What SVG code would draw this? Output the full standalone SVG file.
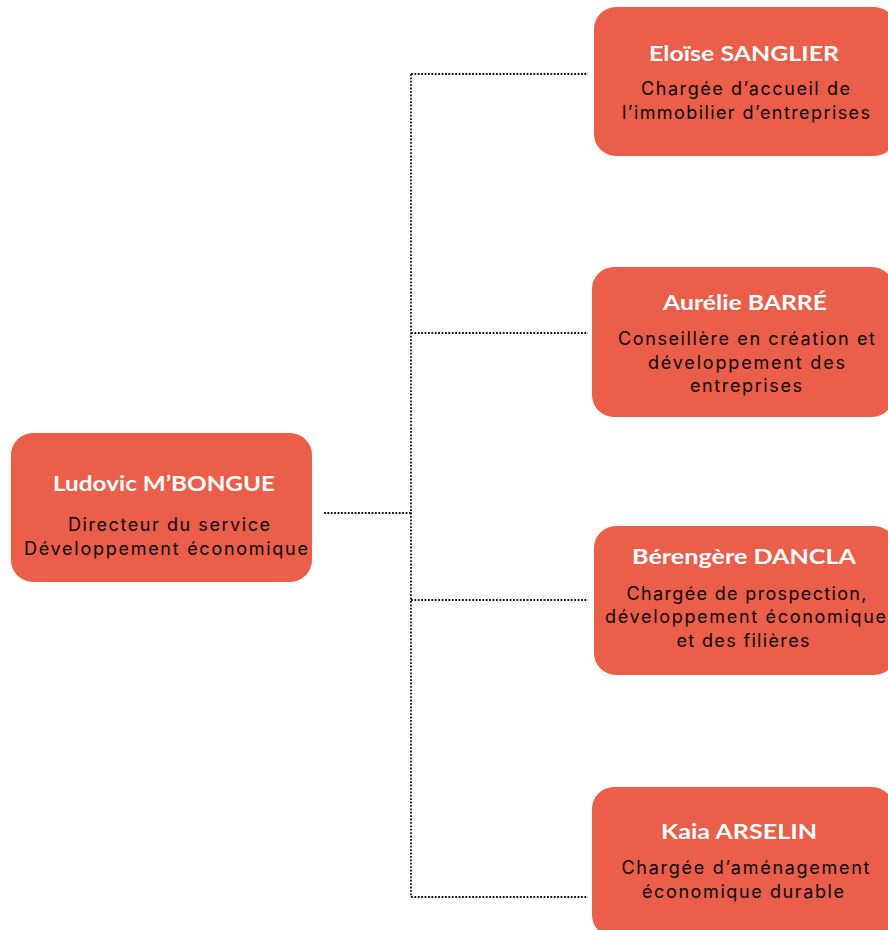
<svg xmlns="http://www.w3.org/2000/svg" width="888" height="930" viewBox="0 0 888 930">
<style>
.box{fill:#EB5E4A}
.name{font-family:"Lato","Noto Sans",sans-serif;font-weight:700;font-size:21px;fill:#FFFFFF;text-anchor:middle}
.desc{font-family:"Inter","Roboto",sans-serif;font-weight:400;font-size:18px;fill:#0A0A0A;text-anchor:middle}
.link{fill:none;stroke:#111111;stroke-width:1.8;stroke-dasharray:1.8 1.6}
</style>
<rect width="888" height="930" fill="#FFFFFF"/>
<g id="connectors">
<path class="link" d="M324,513 H411"/>
<path class="link" d="M411,74 V897"/>
<path class="link" d="M411,74 H588"/>
<path class="link" d="M411,333 H588"/>
<path class="link" d="M411,600 H588"/>
<path class="link" d="M411,897 H588"/>
</g>
<g id="node-ludovic">
<rect class="box" x="11" y="433" width="301" height="149" rx="22"/>
<text class="name" x="164" y="491" textLength="222" lengthAdjust="spacingAndGlyphs">Ludovic M’BONGUE</text>
<text class="desc" x="169" y="531" textLength="202" lengthAdjust="spacing">Directeur du service</text>
<text class="desc" x="166" y="554.5" textLength="284" lengthAdjust="spacing">Développement économique</text>
</g>
<g id="node-eloise">
<rect class="box" x="594" y="7" width="302" height="149" rx="22"/>
<text class="name" x="744" y="61" textLength="190" lengthAdjust="spacingAndGlyphs">Eloïse SANGLIER</text>
<text class="desc" x="745.5" y="95" textLength="209" lengthAdjust="spacing">Chargée d’accueil de</text>
<text class="desc" x="746" y="118.5" textLength="248" lengthAdjust="spacing">l’immobilier d’entreprises</text>
</g>
<g id="node-aurelie">
<rect class="box" x="592" y="267" width="302" height="150" rx="22"/>
<text class="name" x="745" y="310" textLength="164" lengthAdjust="spacingAndGlyphs">Aurélie BARRÉ</text>
<text class="desc" x="746.5" y="345" textLength="257" lengthAdjust="spacing">Conseillère en création et</text>
<text class="desc" x="746.5" y="368.5" textLength="197" lengthAdjust="spacing">développement des</text>
<text class="desc" x="746" y="392" textLength="112" lengthAdjust="spacing">entreprises</text>
</g>
<g id="node-berengere">
<rect class="box" x="594" y="526" width="302" height="149" rx="22"/>
<text class="name" x="744" y="564" textLength="224" lengthAdjust="spacingAndGlyphs">Bérengère DANCLA</text>
<text class="desc" x="746.5" y="599.5" textLength="240" lengthAdjust="spacing">Chargée de prospection,</text>
<text class="desc" x="745.5" y="623" textLength="281" lengthAdjust="spacing">développement économique</text>
<text class="desc" x="743" y="646.5" textLength="133" lengthAdjust="spacing">et des filières</text>
</g>
<g id="node-kaia">
<rect class="box" x="592" y="787" width="302" height="150" rx="22"/>
<text class="name" x="739" y="839" textLength="156" lengthAdjust="spacingAndGlyphs">Kaia ARSELIN</text>
<text class="desc" x="745.5" y="874" textLength="248" lengthAdjust="spacing">Chargée d’aménagement</text>
<text class="desc" x="743" y="897.5" textLength="202" lengthAdjust="spacing">économique durable</text>
</g>
</svg>
